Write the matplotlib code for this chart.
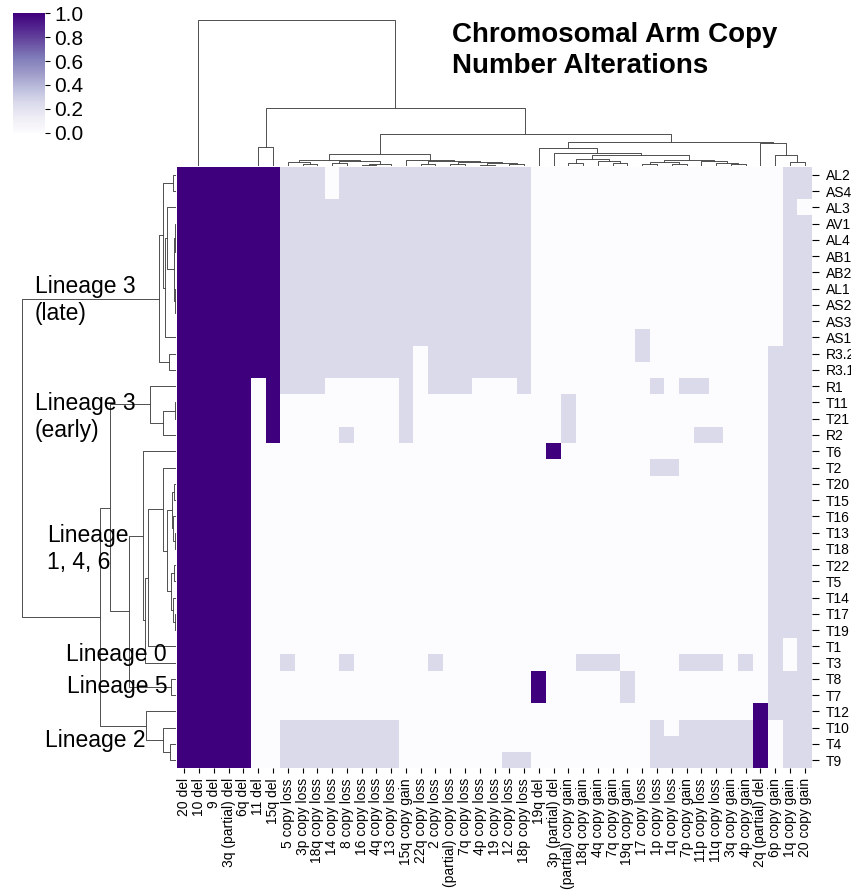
import numpy as np
import matplotlib
matplotlib.use('Agg')
import matplotlib.pyplot as plt
from matplotlib.collections import LineCollection

plt.rcParams['font.family'] = ['Liberation Sans', 'DejaVu Sans']

############# Daten
col_labels = ['20 del', '10 del', '9 del', '3q (partial) del', '6q del', '11 del', '15q del',
              '5 copy loss', '3p copy loss', '18q copy loss', '14 copy loss', '8 copy loss',
              '16 copy loss', '4q copy loss', '13 copy loss', '15q copy gain', '22q copy loss',
              '2 copy loss', '(partial) copy loss', '7q copy loss', '4p copy loss', '19 copy loss',
              '12 copy loss', '18p copy loss', '19q del', '3p (partial) del', '(partial) copy gain',
              '18q copy gain', '4q copy gain', '7q copy gain', '19q copy gain', '17 copy loss',
              '1p copy loss', '1q copy loss', '7p copy gain', '11p copy loss', '11q copy loss',
              '3q copy gain', '4p copy gain', '2q (partial) del', '6p copy gain', '1q copy gain',
              '20 copy gain']

row_labels = ['AL2', 'AS4', 'AL3', 'AV1', 'AL4', 'AB1', 'AB2', 'AL1', 'AS2', 'AS3', 'AS1',
              'R3.2', 'R3.1', 'R1', 'T11', 'T21', 'R2', 'T6', 'T2', 'T20', 'T15', 'T16', 'T13',
              'T18', 'T22', 'T5', 'T14', 'T17', 'T19', 'T1', 'T3', 'T8', 'T7', 'T12', 'T10',
              'T4', 'T9']

# '#' = deletion (1.0), '+' = copy change, '.' = none
val_del = 1.0
val_copy = 0.25
patterns = [
    '#######+++' '.+++++++++' '++++......' '..........' '.++',  # AL2
    '#######+++' '.+++++++++' '++++......' '..........' '.++',  # AS4
    '#######+++' '++++++++++' '++++......' '..........' '.+.',  # AL3
    '#######+++' '++++++++++' '++++......' '..........' '.++',  # AV1
    '#######+++' '++++++++++' '++++......' '..........' '.++',  # AL4
    '#######+++' '++++++++++' '++++......' '..........' '.++',  # AB1
    '#######+++' '++++++++++' '++++......' '..........' '.++',  # AB2
    '#######+++' '++++++++++' '++++......' '..........' '.++',  # AL1
    '#######+++' '++++++++++' '++++......' '..........' '.++',  # AS2
    '#######+++' '++++++++++' '++++......' '..........' '.++',  # AS3
    '#######+++' '++++++++++' '++++......' '.+........' '.++',  # AS1
    '#######+++' '++++++.+++' '++++......' '.+........' '+++',  # R3.2
    '#######+++' '++++++.+++' '++++......' '..........' '+++',  # R3.1
    '#####.#+++' '.....+.+++' '...+......' '..+.++....' '+++',  # R1
    '#####.#...' '.....+....' '......+...' '..........' '+++',  # T11
    '#####.#...' '.....+....' '......+...' '..........' '+++',  # T21
    '#####.#...' '.+...+....' '......+...' '.....++...' '+++',  # R2
    '#####.....' '..........' '.....#....' '..........' '+++',  # T6
    '#####.....' '..........' '..........' '..++......' '+++',  # T2
    '#####.....' '..........' '..........' '..........' '+++',  # T20
    '#####.....' '..........' '..........' '..........' '+++',  # T15
    '#####.....' '..........' '..........' '..........' '+++',  # T16
    '#####.....' '..........' '..........' '..........' '+++',  # T13
    '#####.....' '..........' '..........' '..........' '+++',  # T18
    '#####.....' '..........' '..........' '..........' '+++',  # T22
    '#####.....' '..........' '..........' '..........' '+++',  # T5
    '#####.....' '..........' '..........' '..........' '+++',  # T14
    '#####.....' '..........' '..........' '..........' '+++',  # T17
    '#####.....' '..........' '..........' '..........' '+++',  # T19
    '#####.....' '..........' '..........' '..........' '+.+',  # T1
    '#####..+..' '.+.....+..' '.......+++' '....+++.+.' '+.+',  # T3
    '#####.....' '..........' '....#.....' '+.........' '+++',  # T8
    '#####.....' '..........' '....#.....' '+.........' '+++',  # T7
    '#####.....' '..........' '..........' '.........#' '+++',  # T12
    '#####..+++' '+++++.....' '..........' '..+.+++++#' '.++',  # T10
    '#####..+++' '+++++.....' '..........' '..+++++++#' '.++',  # T4
    '#####..+++' '+++++.....' '..++......' '..+++++++#' '.++',  # T9
]

# Dendrogramme: (hoehe, links, rechts), Blaetter = Index in der Anzeige
col_tree = (145.5,
            (0, 0, (0, 1, (0, 2, (0, 3, 4)))),
            (57.2,
             (18.2, 5, 6),
             (31.5,
              (11.2,
               (5, (3.2, 7, (1, 8, 9)), (4.2, (2, 10, 11), (1.5, (0.8, 12, 13), 14))),
               (5.5, 15, (4.5, (1.5, 16, 17),
                          (3.5, (1, 18, 19), (2, (0.5, 20, 21), (1, 22, 23)))))),
              (23.8,
               (17.2, 24, (12.8, 25,
                           (10.5,
                            (6.2, (2.5, 26, 27), (4, 28, (2, 29, 30))),
                            (5.5, (3, (1.5, 31, 32), (1.5, 33, 34)),
                             (4, 35, (2.5, 36, (1.5, 37, 38))))))),
               (22.8, 39, (10.5, 40, (3.8, 41, 42)))))))

row_tree = (154,
            (17,
             (12.7, (3, 0, 1),
              (11, (9.3, 2, (2, (1, 3, (0.5, 4, (0, 5, 6))), (1, 7, (0, 8, 9)))), 10)),
             (7, 11, 12)),
            (76,
             (66,
              (26, 13, (13.3, (1, 14, 15), 16)),
              (46.7,
               (33.3, 17,
                (31,
                 (27.7,
                  (13.3, 18,
                   (9.3, (4, (2, 19, 20), (3, 21, (1, 22, 23))),
                    (5, (2, 24, 25), (3, 26, (1, 27, 28))))),
                  29),
                 30)),
               (5, 31, 32))),
             (30, 33, (13, 34, (6, 35, 36)))))

lineage_labels = ['Lineage 3\n(late)', 'Lineage 3\n(early)', 'Lineage\n1, 4, 6',
                  'Lineage 0', 'Lineage 5', 'Lineage 2']
lineage_pos = [(35, 300), (35, 417), (47, 549), (66, 655), (67, 686), (45, 741)]

code = {'#': val_del, '+': val_copy, '.': 0.0}
data = np.array([[code[c] for c in p] for p in patterns])


def tree_lines(node):
    # liefert Position, Hoehe und die U-Linien eines Teilbaums
    if isinstance(node, int):
        return node + 0.5, 0.0, []
    h, left, right = node
    pl, hl, sl = tree_lines(left)
    pr, hr, sr = tree_lines(right)
    seg = [[(pl, hl), (pl, h), (pr, h), (pr, hr)]]
    return (pl + pr) / 2, h, sl + sr + seg


W, H = 851, 893
fig = plt.figure(figsize=(W / 100, H / 100), dpi=100)


def px_axes(l, t, r, b):
    return fig.add_axes([l / W, 1 - b / H, (r - l) / W, (b - t) / H])


# Heatmap
ax = px_axes(177, 166.7, 812.1, 768.3)
mesh = ax.pcolormesh(data, cmap='Purples', vmin=0, vmax=1)
ax.set_xlim(0, len(col_labels))
ax.set_ylim(len(row_labels), 0)
ax.set_xticks(np.arange(len(col_labels)) + 0.5)
ax.set_xticklabels(col_labels, rotation=90, fontsize=10)
ax.set_yticks(np.arange(len(row_labels)) + 0.5)
ax.set_yticklabels(row_labels, fontsize=10)
ax.yaxis.tick_right()
ax.tick_params(axis='y', length=5, pad=5)
for s in ax.spines.values():
    s.set_visible(False)

# Spalten-Dendrogramm
ax_c = px_axes(177, 12.7, 812.1, 165.5)
_, hc, segs = tree_lines(col_tree)
ax_c.add_collection(LineCollection(segs, colors=[(.2, .2, .2)], linewidths=.6))
ax_c.set_xlim(0, len(col_labels))
ax_c.set_ylim(0, hc * 1.05)
ax_c.axis('off')

# Zeilen-Dendrogramm
ax_r = px_axes(14.3, 166.7, 176, 768.3)
_, hr, segs = tree_lines(row_tree)
segs = [[(y, x) for x, y in s] for s in segs]
ax_r.add_collection(LineCollection(segs, colors=[(.2, .2, .2)], linewidths=.6))
ax_r.set_ylim(len(row_labels), 0)
ax_r.set_xlim(hr * 1.05, 0)
ax_r.axis('off')

# Farbskala
cax = px_axes(12.5, 13.3, 44.5, 132.7)
cb = fig.colorbar(mesh, cax=cax)
cb.outline.set_visible(False)
cb.set_ticks([0, 0.2, 0.4, 0.6, 0.8, 1.0])
cb.ax.tick_params(labelsize=15)

fig.text(452 / W, 1 - 22 / H, 'Chromosomal Arm Copy\nNumber Alterations',
         fontsize=20, fontweight='bold', ha='left', va='top', linespacing=1.25)

for txt, (x, y) in zip(lineage_labels, lineage_pos):
    fig.text(x / W, 1 - y / H, txt, fontsize=16.5, ha='left', va='center')

fig.savefig('out.png', dpi=100)
